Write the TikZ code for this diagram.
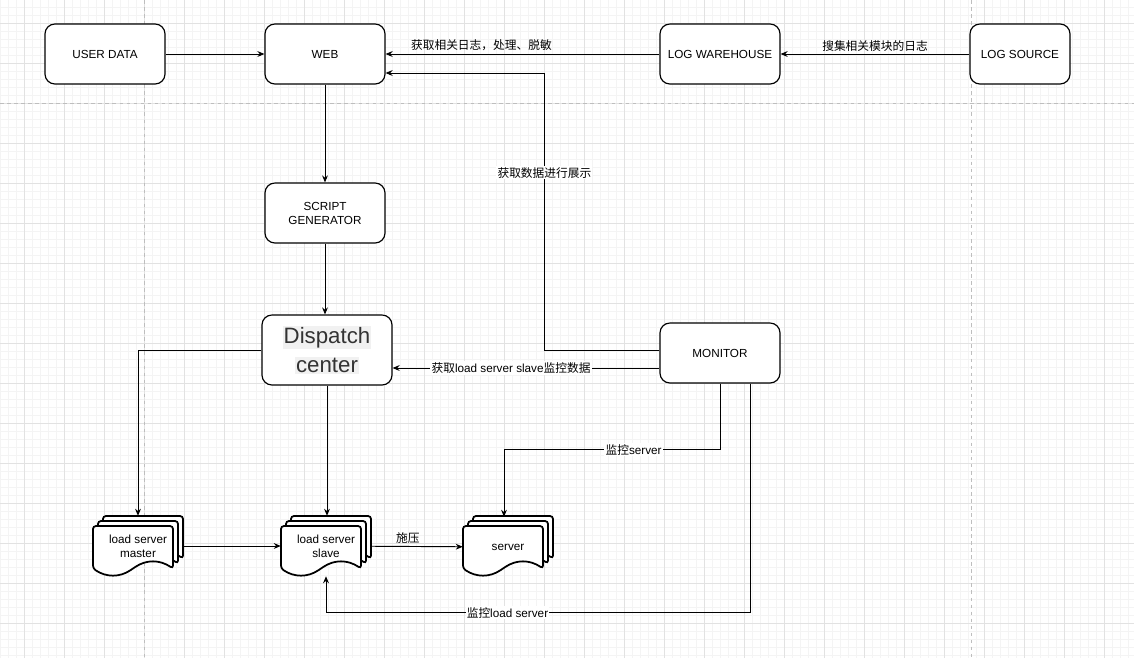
\documentclass[tikz,border=0pt]{standalone}
\usepackage{fontspec}
\setmainfont{Liberation Sans}
\newfontfamily\cjk{Noto Sans CJK SC}
\usetikzlibrary{arrows.meta}
\definecolor{GridClr}{RGB}{226,226,226}
\definecolor{FineClr}{RGB}{244,244,244}
\definecolor{BreakClr}{RGB}{190,190,190}
\definecolor{TextClr}{RGB}{51,51,51}
\definecolor{MarkClr}{RGB}{241,241,241}
\setlength\fboxsep{1pt}

\newcommand\pxu{0.03cm}
% one page of a stacked document, top left corner at #1,#2
\newcommand\docpage[2]{%
  \draw[sheet,shift={(#1,#2)}] (0,0) -- (80,0) -- (80,42.5)
    .. controls (66.67,33.5) and (53.33,33.5) .. (40,42.5)
    .. controls (26.67,51.5) and (13.33,51.5) .. (0,42.5) -- cycle;}
\newcommand\docstack[2]{%
  \begin{scope}[shift={(#1,#2)}]
    \docpage{-35}{-30}\docpage{-40}{-25}\docpage{-45}{-20}
  \end{scope}}

\begin{document}
\begin{tikzpicture}[x=\pxu,y=-\pxu,
  box/.style={draw,line width=1pt,rounded corners=8.5pt,fill=white,
    minimum width=3.6cm,minimum height=1.8cm,align=center,
    font=\fontsize{10}{12}\selectfont},
  stack/.style={minimum width=2.7cm,minimum height=1.8cm,inner sep=0pt,
    align=center,font=\fontsize{10}{12}\selectfont},
  sheet/.style={line width=1.5pt,fill=white,rounded corners=2.5pt},
  link/.style={line width=0.8pt,-{Stealth[length=6pt,width=5pt,inset=2pt]}},
  lbl/.style={font=\fontsize{10}{12}\selectfont,inner sep=1pt},
  fine/.style={FineClr,line width=0.5pt},
  major/.style={GridClr,line width=0.6pt},
  pagebreak/.style={BreakClr,line width=0.6pt,dash pattern=on 3pt off 3pt}]
\useasboundingbox[fill=white] (0,0) rectangle (1134,658);

% background grid
\foreach \gx in {0,8,...,1134} \draw[fine] (\gx,0) -- (\gx,658);
\foreach \gy in {7,15,...,658} \draw[fine] (0,\gy) -- (1134,\gy);
\foreach \gx in {24,64,...,1134} \draw[major] (\gx,0) -- (\gx,658);
\foreach \gy in {23,63,...,658} \draw[major] (0,\gy) -- (1134,\gy);
\draw[pagebreak] (144,0) -- (144,658);
\draw[pagebreak] (971,0) -- (971,658);
\draw[pagebreak] (0,103) -- (1134,103);

\node[box] (user) at (105,54) {USER DATA};
\node[box] (web) at (325,54) {WEB};
\node[box] (warehouse) at (720,54) {LOG WAREHOUSE};
\node[box,minimum width=3cm] (source) at (1020,54) {LOG SOURCE};
\node[box] (script) at (325,213) {SCRIPT\\GENERATOR};
\node[box,minimum width=3.9cm,minimum height=2.1cm,text=TextClr,
  font=\fontsize{19}{25}\selectfont] (dispatch) at (327,350)
  {\colorbox{MarkClr}{Dispatch}\\\colorbox{MarkClr}{center}};
\node[box] (monitor) at (720,353) {MONITOR};

\docstack{138}{546}
\node[stack] (master) at (138,546) {load server\\master};
\docstack{326}{546}
\node[stack] (slave) at (326,546) {load server\\slave};
\docstack{508}{546}
\node[stack] (server) at (508,547) {server};

\draw[link] (user) -- (web);
\draw[link] (warehouse) -- node[lbl,above=1pt,pos=.65]{\cjk 获取相关日志，处理、脱敏} (web);
\draw[link] (source) -- node[lbl,above=1pt]{\cjk 搜集相关模块的日志} (warehouse);
\draw[link] ([yshift=3*\pxu]monitor.west) -- ++(-115,0)
  |- node[lbl,fill=white,pos=.32]{\cjk 获取数据进行展示} ([yshift=-19*\pxu]web.east);

\draw[link] (web) -- (web |- script.north);
\draw[link] (script) -- (script |- dispatch.north);
\draw[link] ([yshift=-15*\pxu]monitor.west)
  -- node[lbl,fill=white,pos=.556]{{\cjk 获取}load server slave{\cjk 监控数据}} ([yshift=-18*\pxu]dispatch.east);
\draw[link] (dispatch.west) -| (master.north);
\draw[link] (dispatch) -- (dispatch |- slave.north);

\draw[link] (monitor.south) -- ++(0,66)
  -| node[lbl,fill=white,pos=.2]{{\cjk 监控}server} ([xshift=-4*\pxu]server.north);
\draw[link] ([xshift=30*\pxu]monitor.south) -- ++(0,229)
  -| node[lbl,fill=white,pos=.286]{{\cjk 监控}load server} (slave.south);

\draw[link] (master) -- (slave);
\draw[link] (slave) -- node[lbl,above=1pt,pos=.4]{\cjk 施压} (server);
\end{tikzpicture}
\end{document}
